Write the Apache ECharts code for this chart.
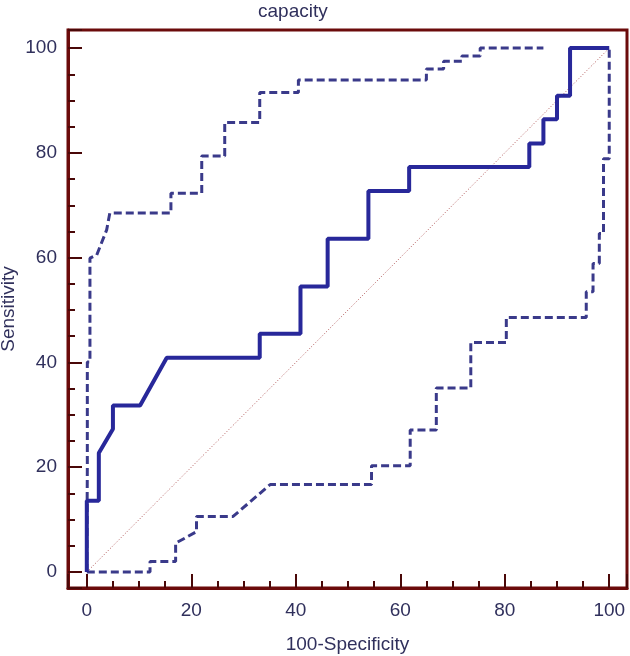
<!DOCTYPE html>
<html>
<head>
<meta charset="utf-8">
<script src="https://cdn.jsdelivr.net/npm/echarts@6/dist/echarts.min.js"></script>
<style>html,body{margin:0;padding:0;background:#fff;}#c{width:630px;height:656px;}</style>
</head>
<body>
<div id="c"></div>
<script>
var titleText = 'capacity';
var xName = '100-Specificity';
var yName = 'Sensitivity';
var tickLabels = [0, 20, 40, 60, 80, 100];

var rocX = [0, 0, 2.3, 2.3, 5.0, 5.0, 10.2, 15.3, 33.1, 33.1, 40.9, 40.9, 46.1, 46.1, 53.9, 53.9, 61.7, 61.7, 84.7, 84.7, 87.4, 87.4, 90.0, 90.0, 92.5, 92.5, 100];
var rocY = [0, 13.6, 13.6, 22.7, 27.3, 31.8, 31.8, 40.9, 40.9, 45.5, 45.5, 54.5, 54.5, 63.6, 63.6, 72.7, 72.7, 77.3, 77.3, 81.8, 81.8, 86.4, 86.4, 90.9, 90.9, 100, 100];

var upperX = [0, 0.1, 0.1, 0.6, 0.6, 1.9, 3.8, 4.4, 16.1, 16.1, 22.0, 22.0, 26.4, 26.4, 33.1, 33.1, 40.5, 40.5, 65.0, 65.0, 68.3, 68.3, 71.8, 71.8, 75.3, 75.3, 87.4];
var upperY = [0, 20, 40.1, 40.1, 59.9, 60.5, 65.3, 68.5, 68.5, 72.3, 72.3, 79.4, 79.4, 85.8, 85.8, 91.5, 91.5, 93.9, 93.9, 96.0, 96.0, 97.5, 97.5, 98.5, 98.5, 100, 100];

var lowerX = [0, 12.1, 12.1, 17.0, 17.0, 21.0, 21.0, 28.0, 35.1, 54.5, 54.5, 61.9, 61.9, 66.9, 66.9, 73.5, 73.5, 80.3, 80.3, 95.6, 95.6, 96.9, 96.9, 98.1, 98.1, 98.9, 98.9, 100, 100];
var lowerY = [0, 0, 2.0, 2.0, 5.5, 7.7, 10.6, 10.6, 16.7, 16.7, 20.3, 20.3, 27.1, 27.1, 35.1, 35.1, 43.8, 43.8, 48.6, 48.6, 53.5, 53.5, 58.9, 58.9, 64.6, 64.6, 78.9, 78.9, 100];

var refX = [0, 100];
var refY = [0, 100];

function pairs(xs, ys) { return xs.map(function (x, i) { return [x, ys[i]]; }); }

var frameColor = '#6b0b0b';
var tickColor = '#4a0808';
var textColor = '#30305c';
var font = 'Liberation Sans, Arial, sans-serif';

function labelFmt(v) { return tickLabels.indexOf(Math.round(v * 1000) / 1000) >= 0 ? String(Math.round(v)) : ''; }

var chart = echarts.init(document.getElementById('c'), null, { renderer: 'canvas' });
chart.setOption({
  animation: false,
  backgroundColor: '#ffffff',
  title: {
    text: titleText, left: 253, top: -3,
    textStyle: { fontFamily: font, fontSize: 19, fontWeight: 'normal', color: textColor }
  },
  grid: {
    left: 68, right: 3, top: 30, bottom: 68,
    outerBoundsMode: 'none', containLabel: false,
    show: true, borderColor: frameColor, borderWidth: 3, backgroundColor: '#fff'
  },
  xAxis: {
    type: 'value', min: -3.6, max: 103.4,
    name: xName, nameLocation: 'middle', nameGap: 47, nameMoveOverlap: false,
    nameTextStyle: { fontFamily: font, fontSize: 19, color: textColor },
    axisLine: { show: true, onZero: false, lineStyle: { color: frameColor, width: 3 } },
    axisTick: { show: true, inside: true, length: 14, lineStyle: { color: tickColor, width: 2 } },
    minorTick: { show: true, splitNumber: 4, length: 7, lineStyle: { color: tickColor, width: 2 } },
    axisLabel: { margin: 13, fontFamily: font, fontSize: 19, color: textColor, formatter: labelFmt, showMinLabel: true, showMaxLabel: true },
    splitLine: { show: false }
  },
  yAxis: {
    type: 'value', min: -3.05, max: 103.45,
    name: yName, nameLocation: 'middle', nameGap: 50, nameRotate: 90, nameMoveOverlap: false,
    nameTextStyle: { fontFamily: font, fontSize: 19, color: textColor },
    axisLine: { show: true, onZero: false, lineStyle: { color: frameColor, width: 3 } },
    axisTick: { show: true, inside: true, length: 14, lineStyle: { color: tickColor, width: 2 } },
    minorTick: { show: true, splitNumber: 4, length: 7, lineStyle: { color: tickColor, width: 2 } },
    axisLabel: { margin: 11, fontFamily: font, fontSize: 19, color: textColor, formatter: labelFmt },
    splitLine: { show: false }
  },
  series: [
    {
      type: 'line', data: pairs(refX, refY), showSymbol: false, silent: true,
      lineStyle: { color: '#b05555', width: 1, type: [1, 2] }, z: 1
    },
    {
      type: 'line', data: pairs(upperX, upperY), showSymbol: false, silent: true,
      lineStyle: { color: '#3a3a8a', width: 3, type: [8, 4] }, z: 2
    },
    {
      type: 'line', data: pairs(lowerX, lowerY), showSymbol: false, silent: true,
      lineStyle: { color: '#3a3a8a', width: 3, type: [8, 4] }, z: 2
    },
    {
      type: 'line', data: pairs(rocX, rocY), showSymbol: false, silent: true,
      lineStyle: { color: '#28289a', width: 4 }, z: 3
    }
  ]
});
</script>
</body>
</html>
